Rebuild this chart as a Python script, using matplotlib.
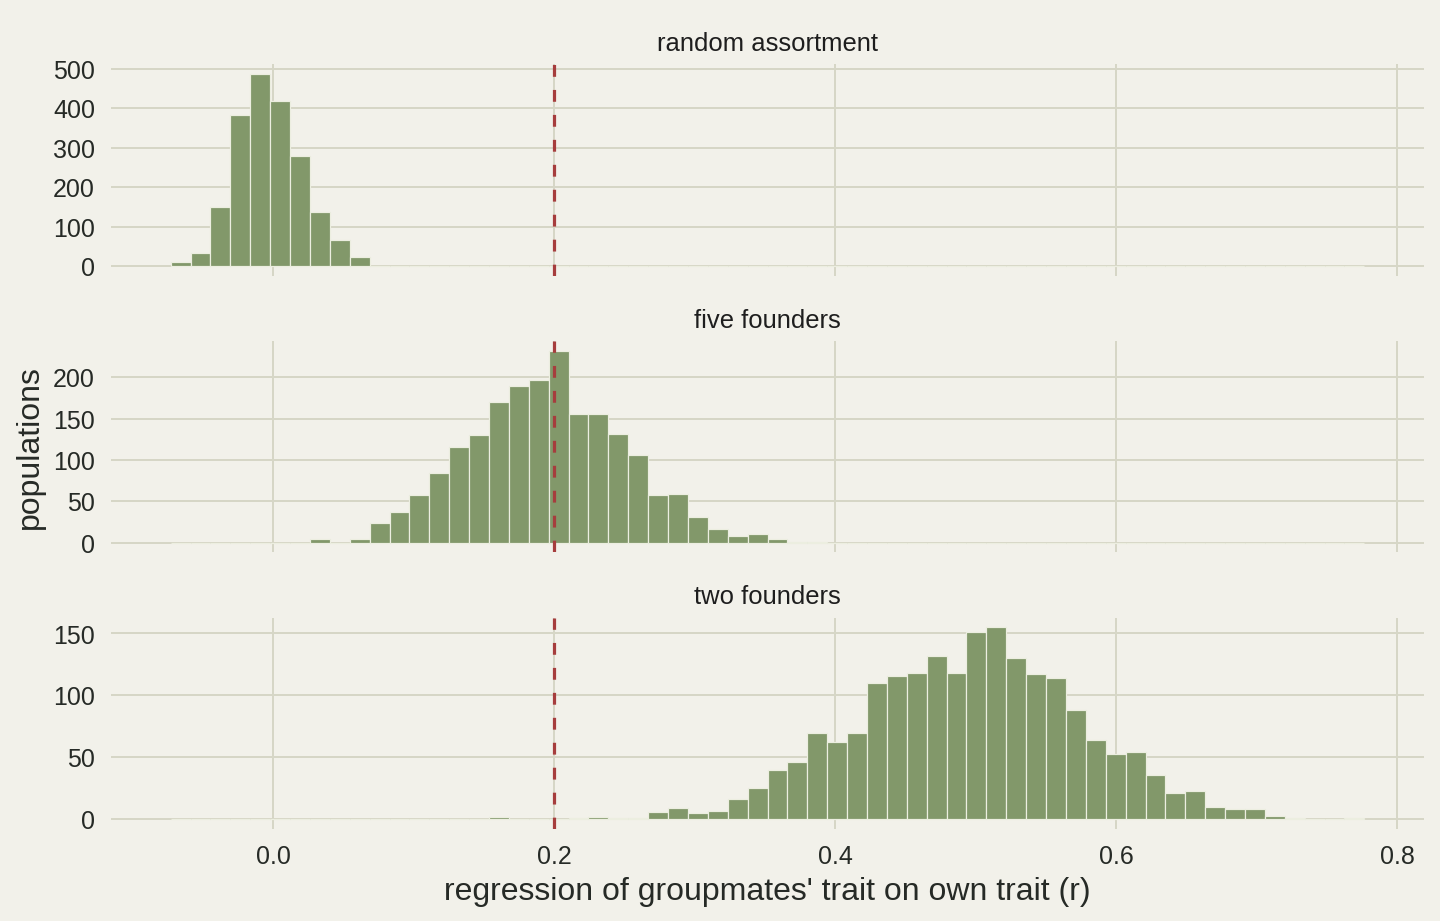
import matplotlib
matplotlib.use('Agg')
import matplotlib.pyplot as plt
from matplotlib.ticker import MultipleLocator
import numpy as np

plt.rcParams['font.family'] = ['Liberation Sans', 'DejaVu Sans']

# shared bins over the whole range of r values
r_min, r_max = -0.0728, 0.7767
n_bins = 60
edges = np.linspace(r_min, r_max, n_bins + 1)
centers = 0.5 * (edges[:-1] + edges[1:])

# counts per bin
random_counts = [9, 33, 150, 383, 487, 418, 280, 136, 65, 23] + [0] * 50

five_counts = ([0] * 7 + [4, 0, 4, 24, 37, 58, 84, 115, 130, 170, 189, 196, 232,
                          156, 155, 131, 106, 57, 59, 31, 17, 8, 10, 4, 1, 1]
               + [0] * 27)

two_counts = ([0] * 16 + [2, 0, 0, 0, 1, 2, 1, 1, 6, 9, 5, 7, 16, 25, 40, 46,
                          70, 62, 70, 110, 116, 118, 132, 118, 151, 155, 130,
                          117, 114, 88, 64, 53, 54, 36, 21, 23, 10, 8, 8, 3, 1,
                          0, 0, 1])

panel_titles = ['random assortment', 'five founders', 'two founders']
panel_counts = [random_counts, five_counts, two_counts]
y_steps = [100, 50, 50]
expected_r = 0.2

bg = '#f2f1ea'
bar_col = '#82986a'
grid_col = '#d6d6c6'
text_col = '#262a26'

fig, axes = plt.subplots(3, 1, figsize=(10, 6.4), dpi=144, sharex=True,
                         facecolor=bg)
fig.subplots_adjust(left=0.0771, right=0.9889, top=0.9294, bottom=0.1,
                    hspace=0.31)

for ax, counts, title, step in zip(axes, panel_counts, panel_titles, y_steps):
    ax.set_facecolor(bg)
    ax.use_sticky_edges = False
    ax.hist(centers, bins=edges, weights=counts, color=bar_col,
            edgecolor='#eceee0', linewidth=0.6)
    ax.axvline(expected_r, color='#a63d3d', lw=1.6, ls=(0, (3.7, 4.1)))
    ax.set_title(title, fontsize=12.8, color='#1e1e1e', pad=7)
    ax.yaxis.set_major_locator(MultipleLocator(step))
    ax.grid(True, color=grid_col, lw=1.0)
    ax.set_axisbelow(True)
    for s in ax.spines.values():
        s.set_visible(False)
    ax.tick_params(length=0, labelsize=12.5, colors=text_col, pad=8)

axes[1].set_ylabel('populations', fontsize=16, color=text_col)
axes[2].set_xlabel("regression of groupmates' trait on own trait (r)",
                   fontsize=16, color=text_col)

fig.savefig('out.png', dpi=144, facecolor=bg)
